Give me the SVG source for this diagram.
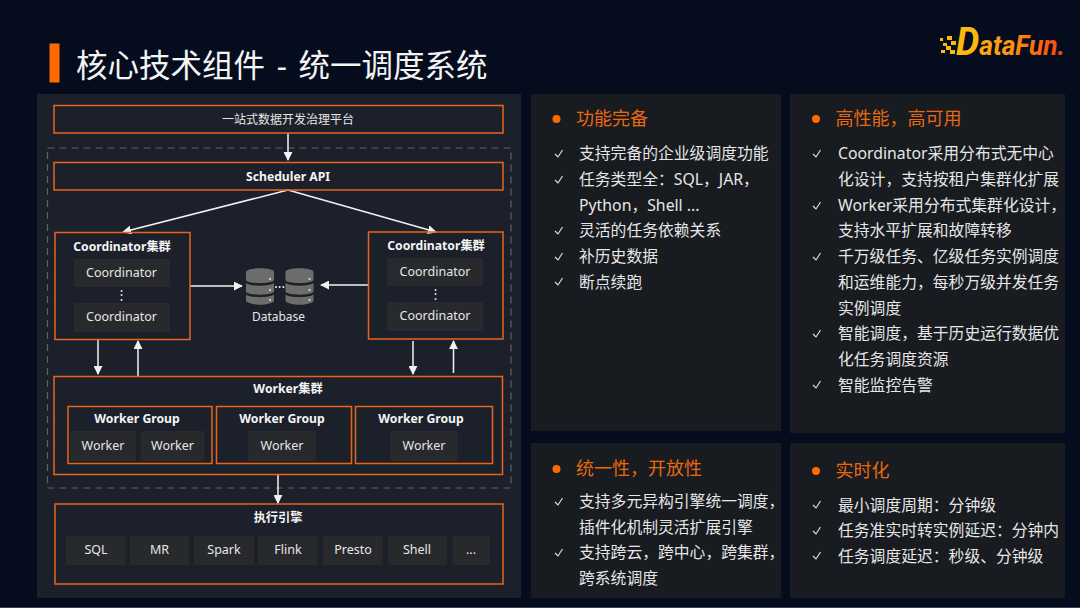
<svg xmlns="http://www.w3.org/2000/svg" width="1080" height="608" viewBox="0 0 1080 608">
<style>
text{font-family:"Noto Sans","Noto Sans CJK SC",sans-serif;fill:#e6e6e6}
.box{fill:none;stroke:#e8641b;stroke-width:1.5}
.chip{fill:#27292c}
.c{text-anchor:middle;font-size:12.5px}
.z{text-anchor:middle;font-size:12px}
.b{text-anchor:middle;font-size:12.2px;font-weight:700;fill:#f4f4f4}
.t{font-size:15.8px}
.h{font-size:18px;fill:#e8690f}
.dot{fill:#ff6a00}
.ck{fill:none;stroke:#e6e6e6;stroke-width:1.1}
.ar{stroke:#f2f2f2;stroke-width:1.5;fill:none;marker-end:url(#a)}
</style>
<defs>
<marker id="a" viewBox="0 0 10 10" refX="9" refY="5" markerUnits="userSpaceOnUse" markerWidth="9" markerHeight="9" orient="auto"><path d="M0 0L10 5L0 10Z" fill="#f2f2f2"/></marker>
<linearGradient id="lg" gradientUnits="userSpaceOnUse" x1="958" x2="1065" y1="0" y2="0"><stop offset="0" stop-color="#fbb80d"/><stop offset=".45" stop-color="#fb9a0c"/><stop offset="1" stop-color="#f9400f"/></linearGradient>
<g id="ck"><path class="ck" d="M0 4L3 7L7.500 0"/></g>
<g id="db"><path d="M0 4C0 -1 28 -1 28 4V12.500C24 16 4 16 0 12.500Z" fill="#6d6d6d"/><path d="M0 15C4 18.500 24 18.500 28 15V24C24 27.500 4 27.500 0 24Z" fill="#6d6d6d"/><path d="M0 26.500C4 30 24 30 28 26.500V33C24 38 4 38 0 33Z" fill="#6d6d6d"/><circle cx="24" cy="11" r="1" fill="#e6e6e6"/><circle cx="24" cy="22" r="1" fill="#e6e6e6"/><circle cx="24" cy="32" r="1" fill="#e6e6e6"/></g>
</defs>
<rect width="1080" height="608" fill="#050c1e"/>
<rect y="607" width="1080" height="1" fill="#3b4358"/>
<g id="title"><rect x="49.500" y="43.500" width="10" height="39" fill="#ff6a00"/><text x="76" y="77" style="font-size:31.500px;word-spacing:3.500px;fill:#f4f4f4">核心技术组件 - 统一调度系统</text></g>
<g id="logo"><g fill="#fbb80d"><rect x="940" y="38" width="3" height="3"/><rect x="947" y="36" width="5" height="4"/><rect x="951" y="41" width="5" height="4"/><rect x="943" y="43" width="4" height="3"/><rect x="946" y="46" width="5" height="4"/><rect x="941" y="50" width="4" height="3"/><rect x="950" y="50" width="5" height="4"/></g><text x="956" y="55" textLength="109" lengthAdjust="spacingAndGlyphs" style="font-family:Roboto,sans-serif;font-size:27px;font-weight:700;font-style:italic;fill:url(#lg)"><tspan style="font-size:38px;fill:#fbb80d">D</tspan>ataFun.</text></g>
<rect id="panel-left" x="37" y="94" width="484" height="504" fill="#1c202a"/>
<rect x="531" y="94" width="250" height="337" fill="#181b20"/>
<rect x="790" y="94" width="275" height="339" fill="#181b20"/>
<rect x="531" y="443" width="250" height="155" fill="#181b20"/>
<rect x="790" y="443" width="275" height="155" fill="#181b20"/>
<rect x="47.500" y="148" width="463.500" height="340" fill="none" stroke="#5c6068" stroke-width="1.2" stroke-dasharray="7 5"/>
<g id="connectors">
<path class="ar" d="M288 133V160"/>
<path class="ar" d="M288 190L123 232"/>
<path class="ar" d="M288 190L436 232"/>
<path class="ar" d="M190 286H242"/>
<path class="ar" d="M368 285H321"/>
<path class="ar" d="M98 340V374"/>
<path class="ar" d="M138 376V341"/>
<path class="ar" d="M413 341V374"/>
<path class="ar" d="M453.500 373V341"/>
<path class="ar" d="M278 474V503"/>
</g>
<g id="platform"><rect class="box" x="54" y="105.500" width="449" height="27.500"/><text class="z" x="288" y="124">一站式数据开发治理平台</text></g>
<g id="scheduler"><rect class="box" x="54" y="162.500" width="449" height="27.500"/><text class="b" x="288" y="181">Scheduler API</text></g>
<g id="coord-left"><rect class="box" x="55" y="232.500" width="135" height="107"/><text class="b" x="122" y="251">Coordinator集群</text><rect class="chip" x="74" y="259" width="96" height="28"/><text class="c" x="121.500" y="277">Coordinator</text><text class="c" x="121" y="299">⋮</text><rect class="chip" x="74" y="303" width="96" height="29"/><text class="c" x="121.500" y="321">Coordinator</text></g>
<g id="coord-right"><rect class="box" x="368.500" y="232" width="134.500" height="107"/><text class="b" x="436" y="250">Coordinator集群</text><rect class="chip" x="387" y="258" width="96" height="28"/><text class="c" x="435" y="276">Coordinator</text><text class="c" x="435" y="298">⋮</text><rect class="chip" x="387" y="302" width="96" height="29"/><text class="c" x="435" y="320">Coordinator</text></g>
<g id="database"><use href="#db" x="246" y="268"/><use href="#db" x="285.500" y="268"/><circle cx="276" cy="287" r="1" fill="#f2f2f2"/><circle cx="279.700" cy="287" r="1" fill="#f2f2f2"/><circle cx="283.400" cy="287" r="1" fill="#f2f2f2"/><text class="z" x="278.500" y="321">Database</text></g>
<g id="workers"><rect class="box" x="54" y="376.500" width="448.500" height="98"/><text class="b" x="288" y="393">Worker集群</text>
<g id="wg1"><rect class="box" x="68" y="406.500" width="144" height="57"/><text class="b" x="137" y="423">Worker Group</text><rect class="chip" x="70.500" y="431" width="65.500" height="30"/><text class="c" x="103" y="450">Worker</text><rect class="chip" x="140.500" y="431" width="64" height="30"/><text class="c" x="172.500" y="450">Worker</text></g>
<g id="wg2"><rect class="box" x="216.500" y="406.500" width="135" height="57"/><text class="b" x="282" y="423">Worker Group</text><rect class="chip" x="248" y="431" width="68" height="30"/><text class="c" x="282" y="450">Worker</text></g>
<g id="wg3"><rect class="box" x="355.500" y="406.500" width="137" height="57"/><text class="b" x="421" y="423">Worker Group</text><rect class="chip" x="390" y="431" width="67.500" height="30"/><text class="c" x="424" y="450">Worker</text></g></g>
<g id="engine"><rect class="box" x="55" y="504" width="448" height="80"/><text class="b" x="278" y="522">执行引擎</text>
<rect class="chip" x="66" y="536" width="59.500" height="29"/><text class="c" x="96" y="554">SQL</text>
<rect class="chip" x="130" y="536" width="59" height="29"/><text class="c" x="159.500" y="554">MR</text>
<rect class="chip" x="194" y="536" width="60" height="29"/><text class="c" x="224" y="554">Spark</text>
<rect class="chip" x="258" y="536" width="59.500" height="29"/><text class="c" x="288" y="554">Flink</text>
<rect class="chip" x="323" y="536" width="59.500" height="29"/><text class="c" x="353" y="554">Presto</text>
<rect class="chip" x="388" y="536" width="59" height="29"/><text class="c" x="417" y="554">Shell</text>
<rect class="chip" x="452.500" y="536" width="37.500" height="29"/><text class="c" x="471" y="554">...</text></g>
<g id="func"><circle class="dot" cx="556.500" cy="119" r="4"/><text class="h" x="576" y="125">功能完备</text>
<use href="#ck" x="555" y="150"/><text class="t" x="579" y="159">支持完备的企业级调度功能</text>
<use href="#ck" x="555" y="176"/><text class="t" x="579" y="185">任务类型全：SQL，JAR，</text><text class="t" x="579" y="210.500">Python，Shell ...</text>
<use href="#ck" x="555" y="227"/><text class="t" x="579" y="236">灵活的任务依赖关系</text>
<use href="#ck" x="555" y="253"/><text class="t" x="579" y="262">补历史数据</text>
<use href="#ck" x="555" y="278"/><text class="t" x="579" y="287.500">断点续跑</text></g>
<g id="perf"><circle class="dot" cx="816" cy="119" r="4"/><text class="h" x="835.500" y="125">高性能，高可用</text>
<use href="#ck" x="813" y="150"/><text class="t" x="838" y="159">Coordinator采用分布式无中心</text><text class="t" x="838" y="185">化设计，支持按租户集群化扩展</text>
<use href="#ck" x="813" y="202"/><text class="t" x="838" y="210.500">Worker采用分布式集群化设计，</text><text class="t" x="838" y="236">支持水平扩展和故障转移</text>
<use href="#ck" x="813" y="253"/><text class="t" x="838" y="262">千万级任务、亿级任务实例调度</text><text class="t" x="838" y="288">和运维能力，每秒万级并发任务</text><text class="t" x="838" y="313.500">实例调度</text>
<use href="#ck" x="813" y="330"/><text class="t" x="838" y="339">智能调度，基于历史运行数据优</text><text class="t" x="838" y="365">化任务调度资源</text>
<use href="#ck" x="813" y="381"/><text class="t" x="838" y="390.500">智能监控告警</text></g>
<g id="unify"><circle class="dot" cx="556.500" cy="469" r="4"/><text class="h" x="576" y="475">统一性，开放性</text>
<use href="#ck" x="555" y="498"/><text class="t" x="579" y="507">支持多元异构引擎统一调度，</text><text class="t" x="579" y="533">插件化机制灵活扩展引擎</text>
<use href="#ck" x="555" y="549"/><text class="t" x="579" y="558">支持跨云，跨中心，跨集群，</text><text class="t" x="579" y="584">跨系统调度</text></g>
<g id="realtime"><circle class="dot" cx="816" cy="471" r="4"/><text class="h" x="835.500" y="477">实时化</text>
<use href="#ck" x="813" y="501"/><text class="t" x="838" y="510.500">最小调度周期：分钟级</text>
<use href="#ck" x="813" y="527"/><text class="t" x="838" y="536">任务准实时转实例延迟：分钟内</text>
<use href="#ck" x="813" y="552"/><text class="t" x="838" y="561.500">任务调度延迟：秒级、分钟级</text></g>
</svg>
